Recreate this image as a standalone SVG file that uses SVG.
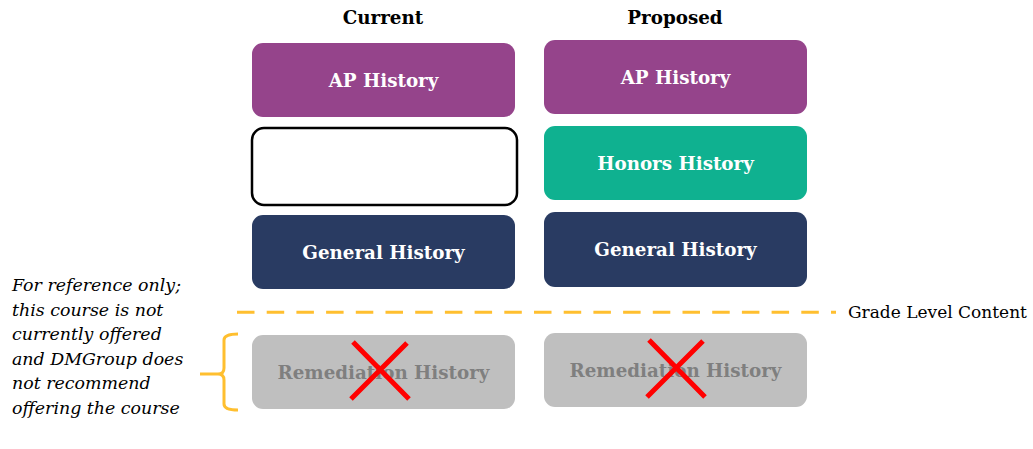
<svg xmlns="http://www.w3.org/2000/svg" width="1033" height="449" viewBox="0 0 1033 449">
<style>
.hdr{font-family:"DejaVu Serif","Liberation Serif",serif;font-weight:bold;font-size:18.3px;fill:#000;text-anchor:middle}
.lbl{font-family:"DejaVu Serif","Liberation Serif",serif;font-weight:bold;font-size:18.3px;fill:#fff;text-anchor:middle}
.gray{fill:#7f7f7f}
.note{font-family:"DejaVu Serif","Liberation Serif",serif;font-style:italic;font-size:17.4px;fill:#000}
.grade{font-family:"DejaVu Serif","Liberation Serif",serif;font-size:17px;fill:#000}
.ap{fill:#95448b}
.hon{fill:#0fb190}
.gen{fill:#293b62}
.rem{fill:#bfbfbf}
.x{stroke:#ff0000;stroke-width:5;fill:none}
.orange{stroke:#ffbf2f;stroke-width:3;fill:none}
</style>
<text class="hdr" x="383" y="24">Current</text>
<text class="hdr" x="675" y="24">Proposed</text>
<g id="cur-ap"><rect class="ap" x="252" y="43" width="263" height="74" rx="11"/><text class="lbl" x="383.5" y="86.5">AP History</text></g>
<g id="cur-empty"><rect x="252" y="128" width="265" height="77" rx="12" fill="#fff" stroke="#000" stroke-width="2.5"/></g>
<g id="cur-gen"><rect class="gen" x="252" y="215" width="263" height="74" rx="11"/><text class="lbl" x="383.5" y="258.5">General History</text></g>
<g id="cur-rem"><rect class="rem" x="252" y="335" width="263" height="74" rx="11"/><text class="lbl gray" x="383.5" y="378.5">Remediation History</text><path class="x" d="M353 342 L409 399 M407 343 L351 399"/></g>
<g id="prop-ap"><rect class="ap" x="544" y="40" width="263" height="74" rx="11"/><text class="lbl" x="675.5" y="83.5">AP History</text></g>
<g id="prop-hon"><rect class="hon" x="544" y="126" width="263" height="74" rx="11"/><text class="lbl" x="675.5" y="169.5">Honors History</text></g>
<g id="prop-gen"><rect class="gen" x="544" y="212" width="263" height="75" rx="11"/><text class="lbl" x="675.5" y="255.5">General History</text></g>
<g id="prop-rem"><rect class="rem" x="544" y="333" width="263" height="74" rx="11"/><text class="lbl gray" x="675.5" y="376.5">Remediation History</text><path class="x" d="M649 340 L705 397 M703 341 L647 397"/></g>
<g id="connectors">
<line class="orange" x1="237" y1="312.3" x2="836" y2="312.3" stroke-width="4" stroke-dasharray="17.5 12.2"/>
<path class="orange" d="M238 334 Q224 334 224 340 L224 368 Q224 374 218 374 L200 374 M218 374 Q224 374 224 380 L224 404 Q224 410 238 410"/>
</g>
<text class="grade" x="848" y="318">Grade Level Content</text>
<g id="note">
<text class="note" x="12" y="291">For reference only;</text>
<text class="note" x="12" y="315.5">this course is not</text>
<text class="note" x="12" y="340">currently offered</text>
<text class="note" x="12" y="364.5">and DMGroup does</text>
<text class="note" x="12" y="389">not recommend</text>
<text class="note" x="12" y="413.5">offering the course</text>
</g>
</svg>
